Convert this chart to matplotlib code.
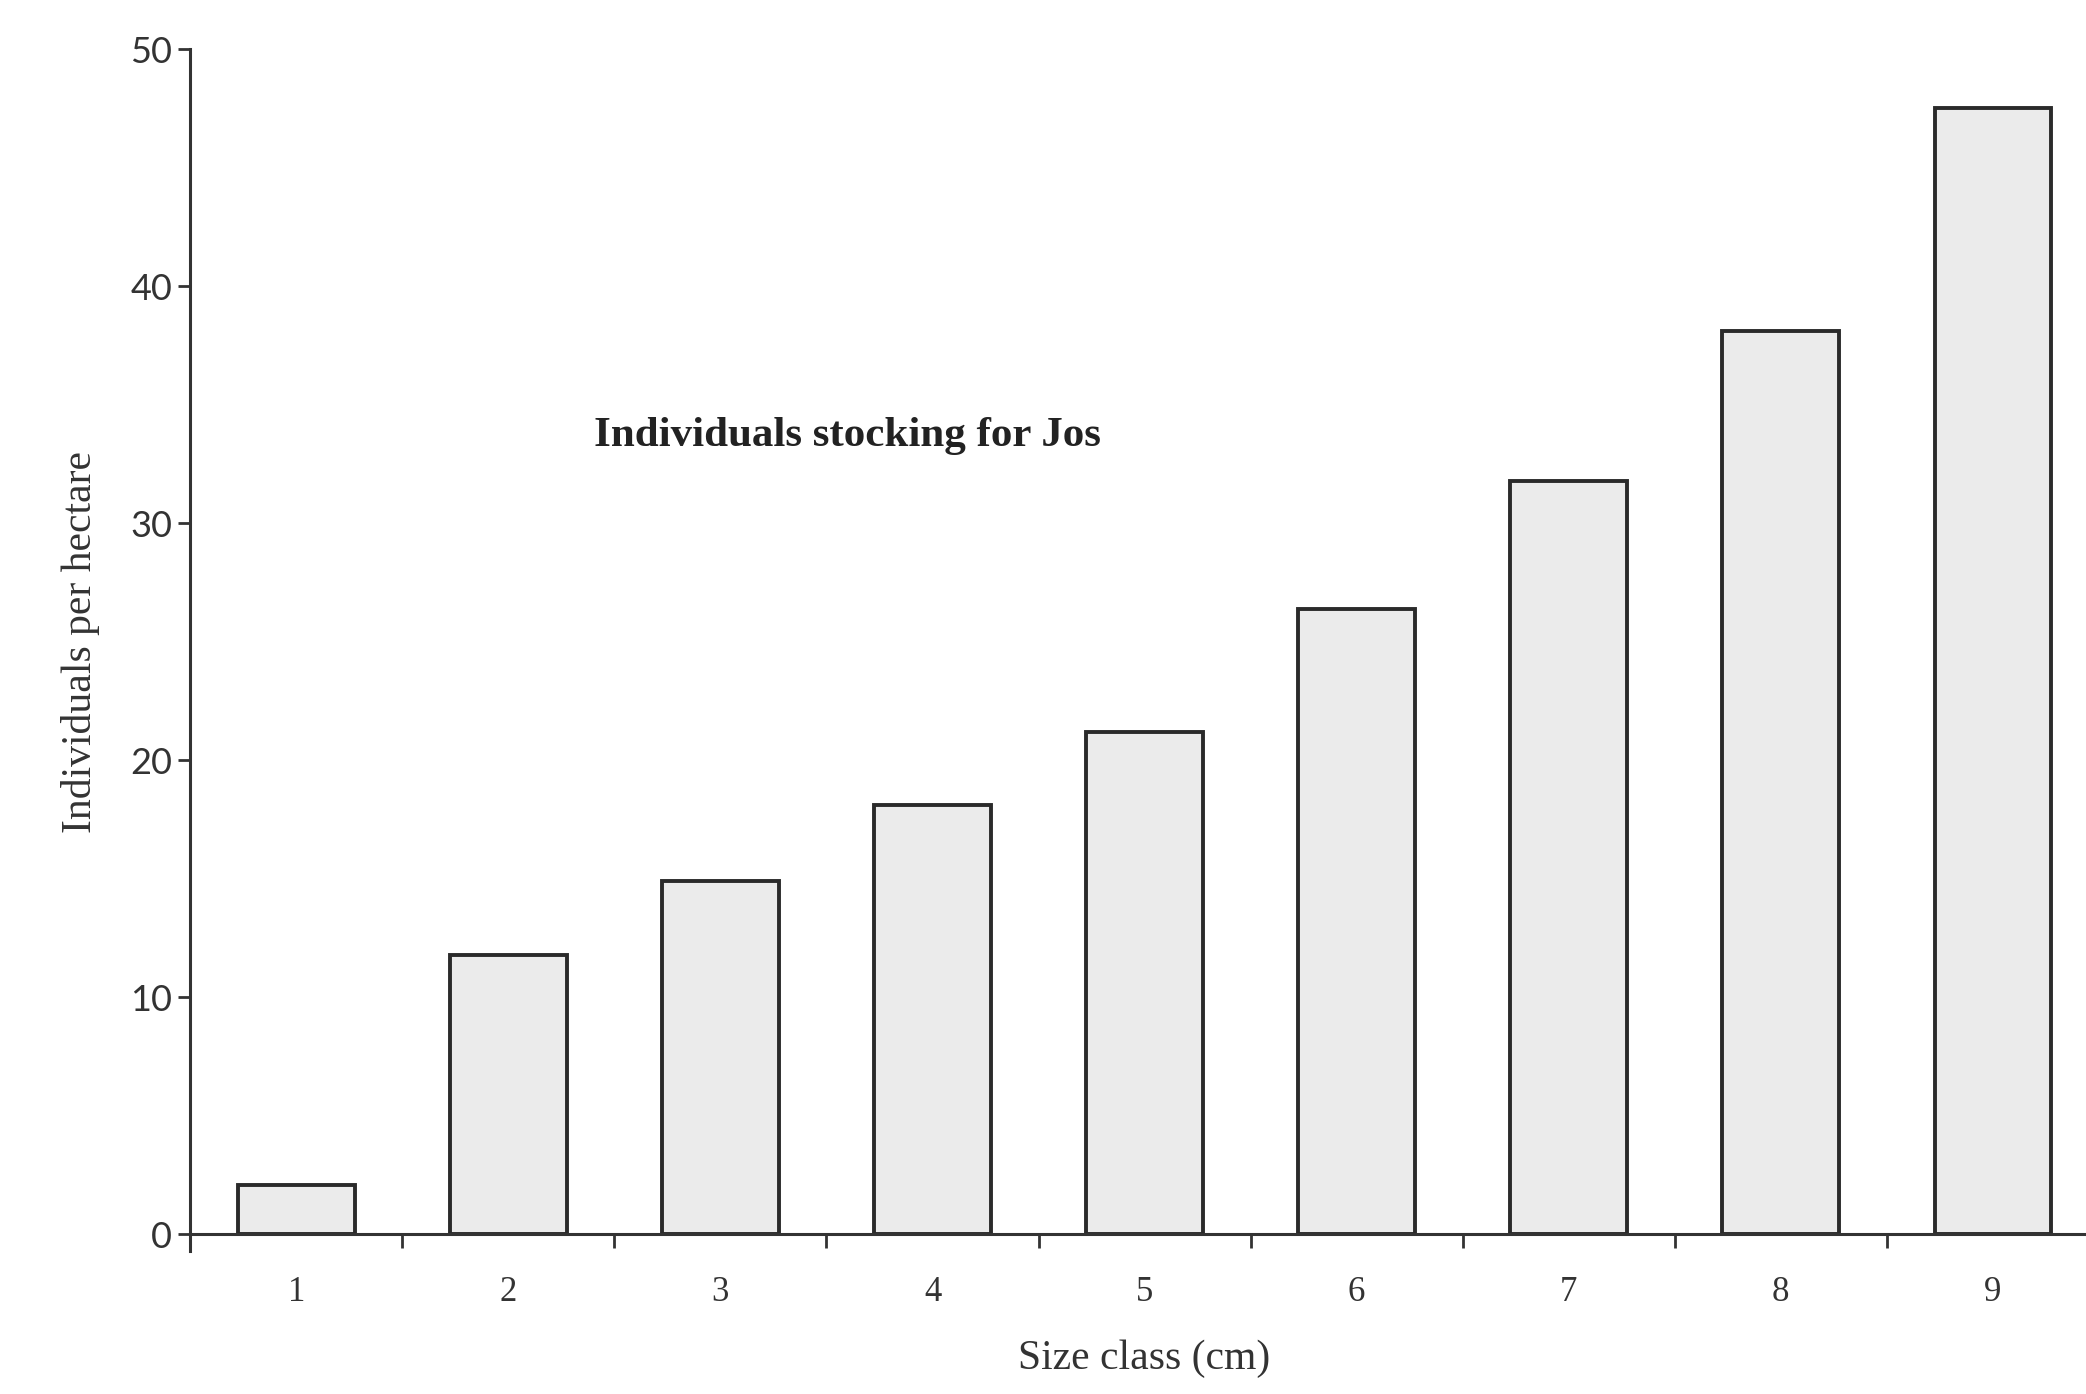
import matplotlib
matplotlib.use("Agg")
import matplotlib.pyplot as plt
import numpy as np

size_classes = [1, 2, 3, 4, 5, 6, 7, 8, 9]
individuals = [2.1, 11.8, 14.9, 18.1, 21.2, 26.4, 31.8, 38.1, 47.5]
y_ticks = [0, 10, 20, 30, 40, 50]
x_labels = ["1", "2", "3", "4", "5", "6", "7", "8", "9"]

fig = plt.figure(figsize=(20.86, 13.94), dpi=100)
ax = fig.add_axes([0.0912, 0.1145, 0.915, 0.8502])

ax.bar(size_classes, individuals, width=0.55, color="#ebebeb",
       edgecolor="#2a2a2a", linewidth=2.8, zorder=2)

ax.set_xlim(0.5, 9.5)
ax.set_ylim(0, 50)

for s in ["top", "right"]:
    ax.spines[s].set_visible(False)
ax.spines["left"].set_linewidth(2.2)
ax.spines["bottom"].set_linewidth(2.2)
ax.spines["left"].set_color("#333333")
ax.spines["bottom"].set_color("#333333")
ax.spines["left"].set_bounds(-0.7, 50)

ax.set_yticks(y_ticks)
ax.set_yticklabels([str(v) for v in y_ticks], fontfamily="Lato", fontsize=26, color="#333333")
ax.tick_params(axis="y", direction="out", length=9, width=2, color="#333333", pad=4)

ax.set_xticks(size_classes)
ax.set_xticklabels(x_labels, fontfamily="Liberation Serif", fontsize=25, color="#333333")
ax.set_xticks(np.arange(1.5, 9.5, 1.0), minor=True)
ax.tick_params(axis="x", which="major", length=0, pad=30)
ax.tick_params(axis="x", which="minor", direction="out", length=10, width=2, color="#333333")

ax.set_xlabel("Size class (cm)", fontfamily="Liberation Serif", fontsize=30, color="#333333", labelpad=22)
ax.set_ylabel("Individuals per hectare", fontfamily="Liberation Serif", fontsize=30, color="#333333", labelpad=22)

ax.text(3.6, 33.7, "Individuals stocking for Jos", fontfamily="Liberation Serif",
        fontweight="bold", fontsize=31, ha="center", va="center", color="#222222")

fig.savefig("out.png", dpi=100)
